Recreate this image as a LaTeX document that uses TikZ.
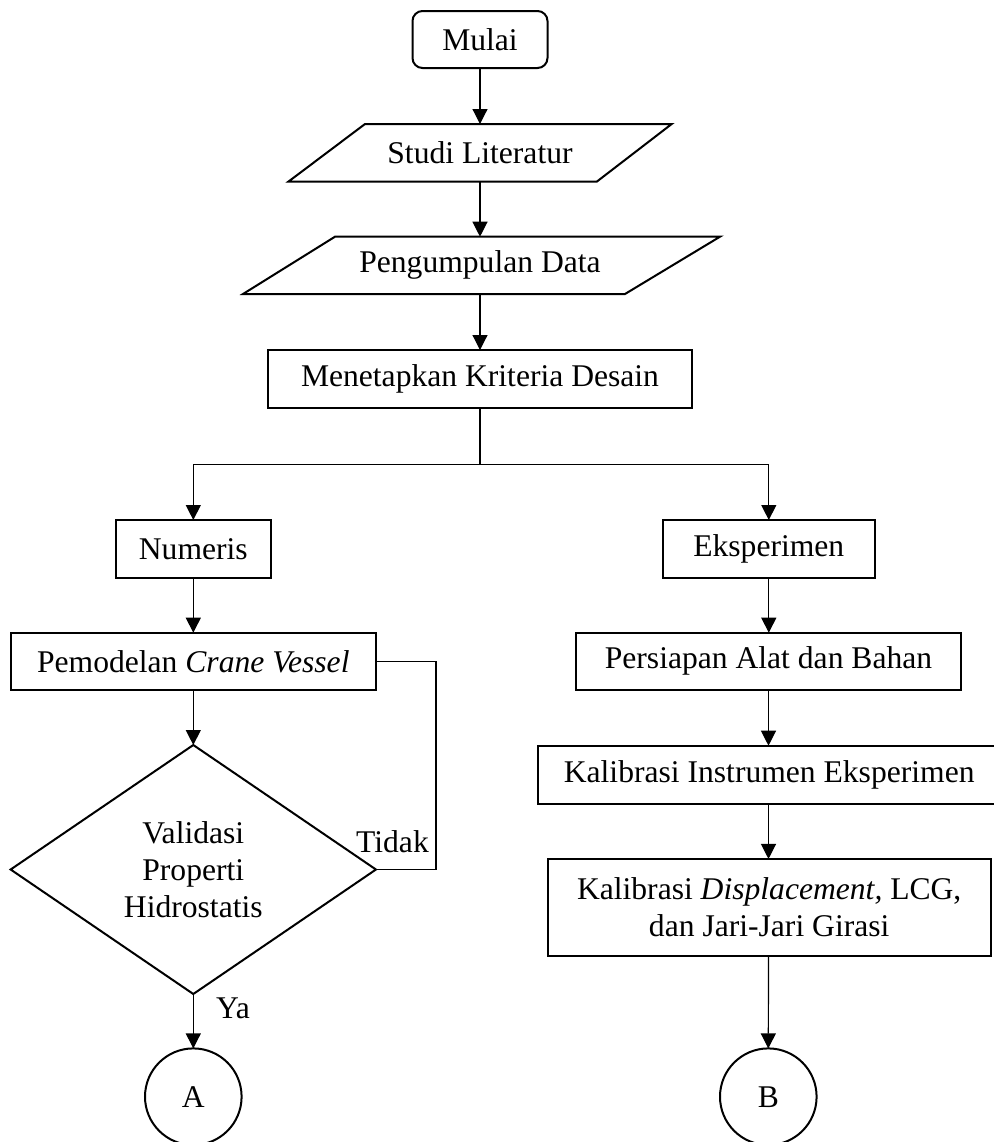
\documentclass[tikz,border=0pt]{standalone}
\usepackage{fontspec}
\setmainfont{Liberation Serif}
\usetikzlibrary{shapes.geometric,arrows.meta}
\begin{document}
\begin{tikzpicture}[x=0.5pt,y=-0.5pt,
  font=\fontsize{15.8pt}{18.5pt}\selectfont,
  box/.style={draw,line width=1pt,inner sep=0pt,outer sep=0pt,align=center},
  txt/.style={inner sep=0pt,outer sep=0pt,align=center},
  arr/.style={line width=0.6pt,-{Triangle[length=7.5pt,width=7.5pt]}},
  ln/.style={line width=0.6pt}]
\useasboundingbox (0,0) rectangle (993,1142);

% main column
\node[box,rounded corners=5pt,minimum width=67.5pt,minimum height=28.5pt] (mulai) at (480,39.5) {Mulai};

\draw[line width=1pt,line join=miter] (288.3,181.7) -- (596.7,181.7) -- (671.7,124) -- (365,124) -- cycle;
\node[txt,minimum width=191.7pt,minimum height=28.85pt] (lit) at (480,152.85) {Studi Literatur};

\draw[line width=1pt,line join=miter] (243,294) -- (625,294) -- (720,236.7) -- (335,236.7) -- cycle;
\node[txt,minimum width=238.5pt,minimum height=28.65pt] (dat) at (480,265.35) {Pengumpulan Data};

\node[box,minimum width=212pt,minimum height=28.85pt] (krit) at (480,378.85) {Menetapkan Kriteria Desain};

% left column
\node[box,minimum width=77.5pt,minimum height=28.85pt] (num) at (193.3,548.85) {Numeris};
\node[box,minimum width=182.65pt,minimum height=28.65pt] (pem) at (193.3,661.35) {Pemodelan \textit{Crane Vessel}};
\node[box,diamond,minimum width=182.65pt,minimum height=124.5pt] (val) at (193.3,869.5) {Validasi\\Properti\\Hidrostatis};
\node[box,circle,minimum size=48.3pt] (a) at (193.3,1096.7) {A};
\node[txt] (tidak) at (392.5,842) {Tidak};
\node[txt] (ya) at (233,1008.5) {Ya};

% right column
\node[box,minimum width=106.15pt,minimum height=28.85pt] (eks) at (768.8,548.85) {Eksperimen};
\node[box,minimum width=192.5pt,minimum height=28.65pt] (per) at (768.5,661.35) {Persiapan Alat dan Bahan};
\node[box,minimum width=231.5pt,minimum height=29pt] (ins) at (769.2,774.7) {Kalibrasi Instrumen Eksperimen};
\node[box,minimum width=221.5pt,minimum height=48.35pt] (dis) at (769.2,907.3) {Kalibrasi \textit{Displacement,} LCG,\\dan Jari-Jari Girasi};
\node[box,circle,minimum size=48.3pt] (b) at (768.3,1096.7) {B};

% connectors
\draw[arr] (mulai.south) -- (mulai.south |- lit.north);
\draw[arr] (lit.south) -- (lit.south |- dat.north);
\draw[arr] (dat.south) -- (dat.south |- krit.north);
\coordinate (split) at (480,464.3);
\draw[ln] (krit.south) -- (split);
\draw[arr] (split) -| (num.north);
\draw[arr] (split) -| (eks.north);
\draw[arr] (num.south) -- (num.south |- pem.north);
\draw[arr] (pem.south) -- (val.north);
\coordinate (loop) at (436,0);
\draw[ln] (pem.east) -- (pem.east -| loop) -- (val.east -| loop) -- (val.east);
\draw[arr] (val.south) -- (a.north);
\draw[arr] (eks.south) -- (eks.south |- per.north);
\draw[arr] (per.south) -- (per.south |- ins.north);
\draw[arr] (per.south |- ins.south) -- (per.south |- dis.north);
\draw[arr] (per.south |- dis.south) -- (b.north);
\end{tikzpicture}
\end{document}
